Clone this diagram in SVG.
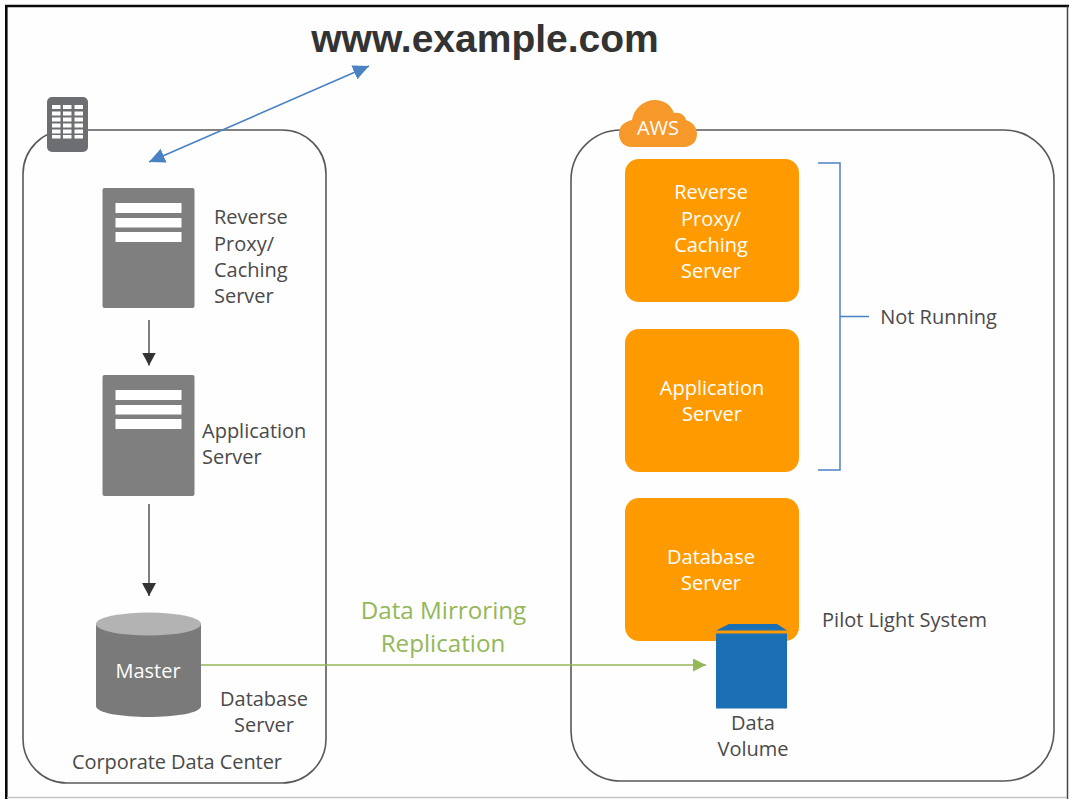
<svg xmlns="http://www.w3.org/2000/svg" width="1069" height="799" viewBox="0 0 1069 799">
<defs>
<marker id="blue" markerUnits="userSpaceOnUse" markerWidth="18" markerHeight="16" refX="16" refY="7.500" orient="auto-start-reverse"><path d="M0,0 L16,7.500 L0,15 Z" fill="#4a82c3"/></marker>
<marker id="dark" markerUnits="userSpaceOnUse" markerWidth="15" markerHeight="16" refX="13" refY="7" orient="auto"><path d="M0,0 L13,7 L0,14 Z" fill="#333"/></marker>
<marker id="green" markerUnits="userSpaceOnUse" markerWidth="16" markerHeight="16" refX="13" refY="6.500" orient="auto"><path d="M0,0 L13,6.500 L0,13 Z" fill="#94b75a"/></marker>
</defs>
<style>
text{font-family:"Open Sans","Noto Sans","Liberation Sans",sans-serif;font-size:20px;fill:#4a4a4a;text-anchor:middle}
.l{text-anchor:start}
.w{fill:#fff}
.srv{fill:#7f7f7f}
.bar{fill:#fff}
.zone{fill:#fefefe;stroke:#595959;stroke-width:1.600}
.or{fill:#ff9b00}
</style>
<rect width="1069" height="799" fill="#fefefe"/>
<path d="M6.300,799 V6 H1069" fill="none" stroke="#0a0a0a" stroke-width="2.600"/>
<path d="M1067.500,6 V799" fill="none" stroke="#444" stroke-width="1.500"/>
<path d="M7,797.500 H1067" stroke="#c4c4c4" stroke-width="1.500" fill="none"/>
<g id="zone-corporate">
<rect class="zone" x="23" y="130" width="303" height="653" rx="44"/>
<rect x="47" y="97" width="41" height="55" rx="5" fill="#6d6e71"/>
<g fill="#fff"><rect x="52" y="105" width="8.500" height="4"/><rect x="63" y="105" width="8.500" height="4"/><rect x="74.500" y="105" width="8.500" height="4"/><rect x="52" y="111.500" width="8.500" height="4"/><rect x="63" y="111.500" width="8.500" height="4"/><rect x="74.500" y="111.500" width="8.500" height="4"/><rect x="52" y="117.500" width="8.500" height="4"/><rect x="63" y="117.500" width="8.500" height="4"/><rect x="74.500" y="117.500" width="8.500" height="4"/><rect x="52" y="123.500" width="8.500" height="4"/><rect x="63" y="123.500" width="8.500" height="4"/><rect x="74.500" y="123.500" width="8.500" height="4"/><rect x="52" y="129.500" width="8.500" height="4"/><rect x="63" y="129.500" width="8.500" height="4"/><rect x="74.500" y="129.500" width="8.500" height="4"/><rect x="52" y="135" width="8.500" height="3.500"/><rect x="63" y="135" width="8.500" height="3.500"/><rect x="74.500" y="135" width="8.500" height="3.500"/></g>
<text x="177" y="769" textLength="210">Corporate Data Center</text>
</g>
<g id="zone-aws">
<rect class="zone" x="571" y="130" width="483" height="651" rx="50"/>
<path d="M632,147 C622,147 619,139 619,134 C619,126 624,122 632,120 C634,108 644,100 655,100 C664,100 671,105 674,113 C681,112 685,116 686,120 C693,122 697,128 697,134 C697,142 691,147 684,147 Z" fill="#f7982a"/>
<text class="w" x="658" y="135">AWS</text>
</g>
<g id="node-proxy"><rect class="srv" x="102.500" y="188" width="92" height="120" rx="2"/><rect class="bar" x="115.500" y="203" width="66" height="10"/><rect class="bar" x="115.500" y="218" width="66" height="9.500"/><rect class="bar" x="115.500" y="232" width="66" height="10"/><text class="l" x="214" y="224">Reverse</text><text class="l" x="214" y="250.500">Proxy/</text><text class="l" x="214" y="277">Caching</text><text class="l" x="214" y="303">Server</text></g>
<g id="node-app"><rect class="srv" x="102.500" y="375" width="92" height="121" rx="2"/><rect class="bar" x="115.500" y="390" width="66" height="10"/><rect class="bar" x="115.500" y="405" width="66" height="9.500"/><rect class="bar" x="115.500" y="419" width="66" height="10"/><text class="l" x="202" y="438">Application</text><text class="l" x="202" y="464">Server</text></g>
<g id="node-master"><path d="M96,624 V706 C96,713 122,717 148.500,717 C175,717 201,713 201,706 V624 Z" fill="#7a7a7a"/><ellipse cx="148.500" cy="624" rx="52.500" ry="11.500" fill="#b3b3b3"/><text class="w" x="148" y="678">Master</text><text x="264" y="706">Database</text><text x="264" y="732">Server</text></g>
<g id="node-aws-proxy"><rect class="or" x="625" y="159" width="174" height="143" rx="14"/><text class="w" x="711" y="199">Reverse</text><text class="w" x="711" y="225.500">Proxy/</text><text class="w" x="711" y="252">Caching</text><text class="w" x="711" y="278">Server</text></g>
<g id="node-aws-app"><rect class="or" x="625" y="329" width="174" height="143" rx="14"/><text class="w" x="712" y="395">Application</text><text class="w" x="712" y="421">Server</text></g>
<g id="node-aws-db"><rect class="or" x="625" y="498" width="174" height="143" rx="14"/><text class="w" x="711" y="564">Database</text><text class="w" x="711" y="590">Server</text></g>
<g id="node-volume"><path d="M716,630.500 L729,624 H777 L787,630.500 Z" fill="#1a6fb5"/><rect x="716" y="633.500" width="71" height="75" fill="#1a6fb5"/><text x="753" y="730">Data</text><text x="753" y="756">Volume</text></g>
<g id="connectors" fill="none">
<path d="M149,162 L369,66" stroke="#4a82c3" stroke-width="1.600" marker-start="url(#blue)" marker-end="url(#blue)"/>
<path d="M149,320 V365.500" stroke="#555" stroke-width="1.500" marker-end="url(#dark)"/>
<path d="M149,504 V596" stroke="#555" stroke-width="1.500" marker-end="url(#dark)"/>
<path d="M201,665 H706" stroke="#94b75a" stroke-width="1.600" marker-end="url(#green)"/>
<path d="M818,163 H840 V470 H818 M840,316.500 H869" stroke="#4a82c3" stroke-width="1.500"/>
</g>
<text x="485" y="52" style="font-family:'Liberation Sans',Arial,sans-serif;font-weight:700;font-size:39px;fill:#333">www.example.com</text>
<text x="443.500" y="619" style="font-size:24.200px;fill:#94b75a">Data Mirroring</text>
<text x="443" y="652" style="font-size:24.200px;fill:#94b75a">Replication</text>
<text x="938.500" y="324">Not Running</text>
<text x="904.500" y="627">Pilot Light System</text>
</svg>
